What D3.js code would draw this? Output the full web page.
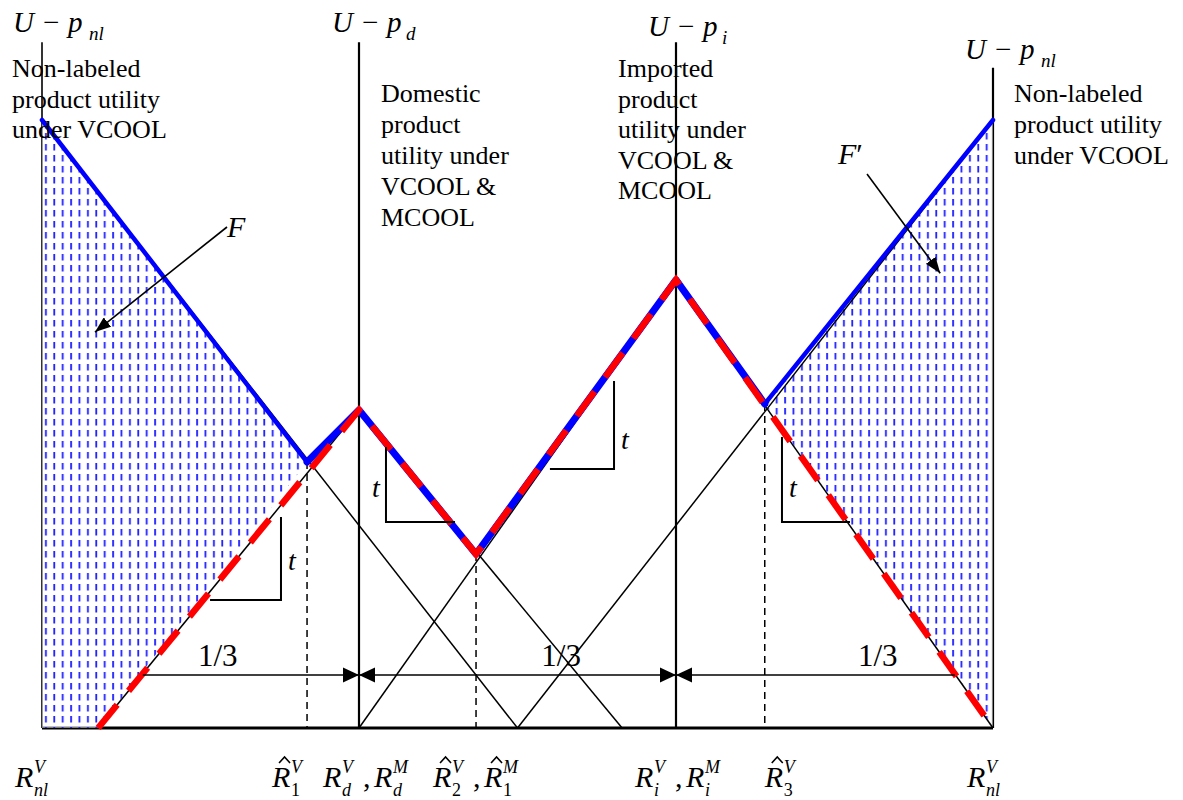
<!DOCTYPE html>
<html>
<head>
<meta charset="utf-8">
<script src="https://cdn.jsdelivr.net/npm/d3@7"></script>
<style>
  html, body { margin: 0; padding: 0; background: #fff; }
  svg { display: block; }
  text { font-family: "Liberation Serif", "Times New Roman", serif; fill: #000; }
</style>
</head>
<body>
<svg id="chart" width="1183" height="800"></svg>
<script>
// ---- Model values: location on the unit line (x) and net utility (y) ----
// Product locations: non-labeled at both ends, domestic at 1/3, imported at 2/3
const productLocations = [0, 1 / 3, 2 / 3, 1];
const axisTops = [1.128, 1.128, 1.128, 1.086];

// Utility lines of each product, as [location, utility] end points
const nonLabeledLeftLine  = [[0, 1.0], [0.5, 0]];
const nonLabeledRightLine = [[1, 1.0], [0.5, 0]];
const domesticLeftLine    = [[0.059, 0], [1 / 3, 0.523]];
const domesticRightLine   = [[1 / 3, 0.523], [0.61, 0]];
const importedLeftLine    = [[1 / 3, 0], [2 / 3, 0.737]];
const importedRightLine   = [[2 / 3, 0.737], [1, 0]];

// Marginal consumers (kinks of the envelopes)
const r1Hat = [0.2787, 0.4375];
const r2Hat = [0.4564, 0.286];
const r3Hat = [0.760, 0.533];

// Upper envelope under VCOOL (blue) and under MCOOL (red, dashed)
const vcoolOuterLeft  = [[0, 1.0], r1Hat];
const vcoolInner      = [r1Hat, [1 / 3, 0.523], r2Hat, [2 / 3, 0.737], r3Hat];
const vcoolOuterRight = [r3Hat, [1, 1.0]];
const mcoolEnvelope   = [[0.059, 0], [1 / 3, 0.523], r2Hat, [2 / 3, 0.737], [1, 0]];

// Shaded areas F and F'
const areaF      = [[0, 0], [0, 1.0], r1Hat, [0.059, 0]];
const areaFPrime = [r3Hat, [1, 1.0], [1, 0]];

// Slope markers: corner, vertical leg end, horizontal leg end
const slopeMarkers = [
  { corner: [0.2513, 0.2105], top: 0.347, side: 0.1767 },
  { corner: [0.3617, 0.3388], top: 0.4622, side: 0.4343 },
  { corner: [0.6015, 0.426], top: 0.5707, side: 0.5341 },
  { corner: [0.7781, 0.3388], top: 0.4786, side: 0.8496 }
];
const slopeLabel = "t";

// Distance brackets of one third
const bracketLevel = 0.0872;
const brackets = [
  { from: 0.106, to: 1 / 3, startHead: false, endHead: true },
  { from: 1 / 3, to: 2 / 3, startHead: true, endHead: true },
  { from: 2 / 3, to: 0.96, startHead: true, endHead: false }
];
const bracketLabels = ["1/3", "1/3", "1/3"];
const bracketLabelX = [0.164, 0.525, 0.858];

// Utility headers above each product axis
const headerSubs = ["nl", "d", "i", "nl"];
const headerBaselines = [32, 32, 36, 59];
const headerLeft = [13, 332, 648, 965];

// Descriptions beside the axes
const descriptions = [
  ["Non-labeled", "product utility", "under VCOOL"],
  ["Domestic", "product", "utility under", "VCOOL &", "MCOOL"],
  ["Imported", "product", "utility under", "VCOOL &", "MCOOL"],
  ["Non-labeled", "product utility", "under VCOOL"]
];

// Horizontal-axis labels: groups of R symbols (hat, superscript, subscript)
const bottomLabels = [
  [{ hat: false, sup: "V", sub: "nl", subItalic: true }],
  [{ hat: true, sup: "V", sub: "1", subItalic: false }],
  [{ hat: false, sup: "V", sub: "d", subItalic: true }, { hat: false, sup: "M", sub: "d", subItalic: true }],
  [{ hat: true, sup: "V", sub: "2", subItalic: false }, { hat: true, sup: "M", sub: "1", subItalic: false }],
  [{ hat: false, sup: "V", sub: "i", subItalic: true }, { hat: false, sup: "M", sub: "i", subItalic: true }],
  [{ hat: true, sup: "V", sub: "3", subItalic: false }],
  [{ hat: false, sup: "V", sub: "nl", subItalic: true }]
];
const bottomLabelAt = [0, r1Hat[0], 1 / 3, r2Hat[0], 2 / 3, r3Hat[0], 1];

// ---- Layout ----
const svg = d3.select("#chart");
const x = d3.scaleLinear().domain([0, 1]).range([42, 993]);
const y = d3.scaleLinear().domain([0, 1]).range([728, 120]);
const line = d3.line().x(d => x(d[0])).y(d => y(d[1]));

const BLUE = "#0000ff";
const RED = "#ff0000";

// ---- Definitions: hatch pattern and arrow heads ----
const defs = svg.append("defs");
const hatch = defs.append("pattern")
  .attr("id", "hatch")
  .attr("patternUnits", "userSpaceOnUse")
  .attr("width", 8.4).attr("height", 11);
hatch.append("rect")
  .attr("x", 3).attr("y", 1).attr("width", 1.8).attr("height", 6.5)
  .attr("fill", "#1f1fff");

defs.append("marker")
  .attr("id", "head")
  .attr("viewBox", "0 0 16 16")
  .attr("refX", 16).attr("refY", 8)
  .attr("markerWidth", 16).attr("markerHeight", 16)
  .attr("markerUnits", "userSpaceOnUse")
  .attr("orient", "auto-start-reverse")
  .append("path").attr("d", "M0,0.5 L16,8 L0,15.5 Z").attr("fill", "#000");

defs.append("marker")
  .attr("id", "pointer")
  .attr("viewBox", "0 0 16 12")
  .attr("refX", 16).attr("refY", 6)
  .attr("markerWidth", 16).attr("markerHeight", 12)
  .attr("markerUnits", "userSpaceOnUse")
  .attr("orient", "auto")
  .append("path").attr("d", "M0,0 L16,6 L0,12 Z").attr("fill", "#000");

// ---- Axes: product axes and the location line ----
svg.append("g").selectAll("line")
  .data(productLocations)
  .join("line")
  .attr("x1", d => x(d)).attr("x2", d => x(d))
  .attr("y1", (d, i) => y(axisTops[i])).attr("y2", y(0))
  .attr("stroke", "#000")
  .attr("stroke-width", (d, i) => i === 0 ? 1.6 : 2.2);

svg.append("line")
  .attr("x1", x(0)).attr("x2", x(1))
  .attr("y1", y(0)).attr("y2", y(0))
  .attr("stroke", "#000").attr("stroke-width", 2.8);

// ---- Shaded areas (light veil + vertical dashes) ----
[areaF, areaFPrime].forEach(poly => {
  const d = line(poly) + "Z";
  svg.append("path").attr("d", d).attr("fill", "rgba(255,255,255,0.5)");
  svg.append("path").attr("d", d).attr("fill", "url(#hatch)");
});

// ---- Product utility lines ----
svg.append("g").selectAll("path")
  .data([nonLabeledLeftLine, nonLabeledRightLine, domesticLeftLine,
         domesticRightLine, importedLeftLine, importedRightLine])
  .join("path")
  .attr("d", line)
  .attr("fill", "none").attr("stroke", "#000").attr("stroke-width", 1.5);

// ---- Dashed drops from marginal consumers ----
svg.append("g").selectAll("line")
  .data([r1Hat, r2Hat, r3Hat])
  .join("line")
  .attr("x1", d => x(d[0])).attr("x2", d => x(d[0]))
  .attr("y1", d => y(d[1])).attr("y2", y(0))
  .attr("stroke", "#000").attr("stroke-width", 1.5)
  .attr("stroke-dasharray", "7,5");

// ---- Envelopes ----
[vcoolOuterLeft, vcoolOuterRight].forEach(seg => {
  svg.append("path").attr("d", line(seg))
    .attr("fill", "none").attr("stroke", BLUE).attr("stroke-width", 4.5)
    .attr("stroke-linecap", "round");
});
svg.append("path").attr("d", line(vcoolInner))
  .attr("fill", "none").attr("stroke", BLUE).attr("stroke-width", 7)
  .attr("stroke-linejoin", "round").attr("stroke-linecap", "round");
svg.append("path").attr("d", line(mcoolEnvelope))
  .attr("fill", "none").attr("stroke", RED).attr("stroke-width", 6.5)
  .attr("stroke-dasharray", "30,18");

// ---- Slope markers ----
const slopes = svg.append("g");
slopeMarkers.forEach((m, i) => {
  const cx = x(m.corner[0]), cy = y(m.corner[1]);
  slopes.append("path")
    .attr("d", `M${cx},${y(m.top)} L${cx},${cy} L${x(m.side)},${cy}`)
    .attr("fill", "none").attr("stroke", "#000").attr("stroke-width", 2);
  const labelX = i === 1 ? cx - 14 : cx + 7;
  const labelY = i === 2 ? cy - 20 : cy - 25;
  slopes.append("text")
    .attr("x", labelX).attr("y", i === 0 ? cy - 30 : labelY)
    .style("font-size", "28px").style("font-style", "italic")
    .text(slopeLabel);
});

// ---- One-third brackets ----
const br = svg.append("g");
brackets.forEach(b => {
  br.append("line")
    .attr("x1", x(b.from)).attr("x2", x(b.to))
    .attr("y1", y(bracketLevel)).attr("y2", y(bracketLevel))
    .attr("stroke", "#000").attr("stroke-width", 1.5)
    .attr("marker-start", b.startHead ? "url(#head)" : null)
    .attr("marker-end", b.endHead ? "url(#head)" : null);
});
br.selectAll("text")
  .data(bracketLabels)
  .join("text")
  .attr("x", (d, i) => x(bracketLabelX[i]))
  .attr("y", y(bracketLevel) - 9)
  .style("font-size", "31px")
  .text(d => d);

// ---- Area labels with pointers ----
svg.append("line")
  .attr("x1", 227).attr("y1", 227).attr("x2", x(0.0557)).attr("y2", y(0.6513))
  .attr("stroke", "#000").attr("stroke-width", 1.6)
  .attr("marker-end", "url(#pointer)");
svg.append("text").attr("x", 227).attr("y", 237)
  .style("font-size", "30px").style("font-style", "italic").text("F");

svg.append("line")
  .attr("x1", 867).attr("y1", 174).attr("x2", x(0.9445)).attr("y2", y(0.748))
  .attr("stroke", "#000").attr("stroke-width", 1.6)
  .attr("marker-end", "url(#pointer)");
const fp = svg.append("text").attr("x", 838).attr("y", 164).style("font-size", "30px");
fp.append("tspan").style("font-style", "italic").text("F");
fp.append("tspan").text("\u2032");

// ---- Utility headers: U − p with subscript ----
headerSubs.forEach((sub, i) => {
  const x0 = headerLeft[i], b = headerBaselines[i];
  const t = svg.append("text").attr("y", b).style("font-size", "29px");
  t.append("tspan").attr("x", x0).style("font-style", "italic").text("U");
  t.append("tspan").attr("x", x0 + 30).text("\u2212");
  t.append("tspan").attr("x", x0 + 55).style("font-style", "italic").text("p");
  t.append("tspan").attr("x", x0 + (sub === "nl" ? 76 : 74)).attr("dy", 8)
    .style("font-style", "italic").style("font-size", "19px").text(sub);
});

// ---- Axis descriptions ----
const descLeft = [12, 381, 618, 1014];
const descTop = [77, 102, 77, 102];
const descStep = [30.5, 31, 30.5, 31];
descriptions.forEach((lines, i) => {
  const t = svg.append("text").style("font-size", "26px");
  lines.forEach((s, k) => {
    t.append("tspan").attr("x", descLeft[i]).attr("y", descTop[i] + k * descStep[i]).text(s);
  });
});

// ---- Horizontal-axis labels ----
const labelShift = [-27, -35, -36, -43, -41, 0, -26];
const rBase = 787;
function drawR(x0, spec) {
  svg.append("text").attr("x", x0).attr("y", rBase)
    .style("font-size", "30px").style("font-style", "italic").text("R");
  if (spec.hat) {
    // circumflex accent over the R
    svg.append("path")
      .attr("d", `M${x0 + 7},${rBase - 24} L${x0 + 12.5},${rBase - 30} L${x0 + 18},${rBase - 24}`)
      .attr("fill", "none").attr("stroke", "#000").attr("stroke-width", 1.6)
      .attr("stroke-linejoin", "miter");
  }
  svg.append("text").attr("x", x0 + 19).attr("y", rBase - 14)
    .style("font-size", "18px").style("font-style", "italic").text(spec.sup);
  svg.append("text").attr("x", x0 + 19).attr("y", rBase + 9)
    .style("font-size", "18px").style("font-style", spec.subItalic ? "italic" : "normal")
    .text(spec.sub);
}
bottomLabels.forEach((group, i) => {
  let x0 = x(bottomLabelAt[i]) + labelShift[i];
  group.forEach((spec, k) => {
    if (k > 0) {
      svg.append("text").attr("x", x0 - 11).attr("y", rBase).style("font-size", "30px").text(",");
    }
    drawR(x0, spec);
    x0 += 51;
  });
});
</script>
</body>
</html>
